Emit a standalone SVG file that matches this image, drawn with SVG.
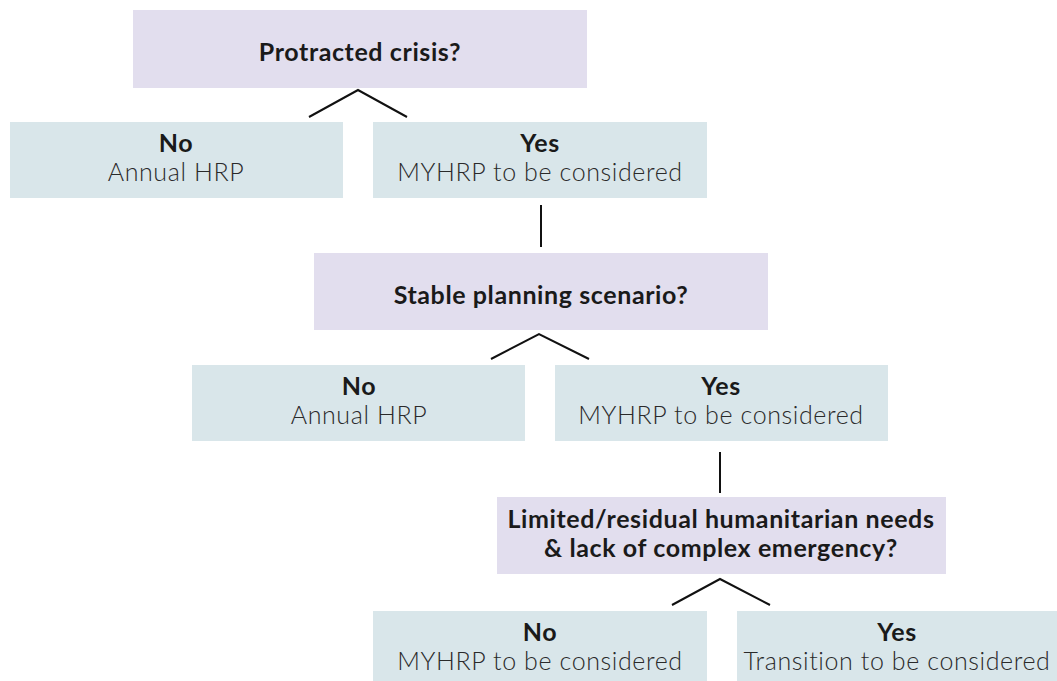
<svg xmlns="http://www.w3.org/2000/svg" width="1057" height="681" viewBox="0 0 1057 681">
<style>
.q{fill:#E2DEEE}
.a{fill:#D9E6EA}
.b{font-family:Lato,"Liberation Sans",sans-serif;font-weight:700;font-size:25px;fill:#1a1a1a;text-anchor:middle;letter-spacing:0.6px}
.l{font-family:Lato,"Liberation Sans",sans-serif;font-weight:300;font-size:25px;fill:#2a2a2a;text-anchor:middle;letter-spacing:0.6px}
.c{fill:none;stroke:#111;stroke-width:2}
</style>
<rect width="1057" height="681" fill="#fff"/>
<g id="n1"><rect class="q" x="133" y="10" width="454" height="78"/><text class="b" x="360" y="61">Protracted crisis?</text></g>
<g id="n2"><rect class="a" x="10" y="122" width="333" height="76"/><text class="b" x="176" y="152">No</text><text class="l" x="176" y="181">Annual HRP</text></g>
<g id="n3"><rect class="a" x="373" y="122" width="334" height="76"/><text class="b" x="540" y="152">Yes</text><text class="l" x="540" y="181">MYHRP to be considered</text></g>
<g id="n4"><rect class="q" x="314" y="253" width="454" height="77"/><text class="b" x="541" y="304">Stable planning scenario?</text></g>
<g id="n5"><rect class="a" x="192" y="365" width="333" height="76"/><text class="b" x="359" y="395">No</text><text class="l" x="359" y="424">Annual HRP</text></g>
<g id="n6"><rect class="a" x="555" y="365" width="333" height="76"/><text class="b" x="721" y="395">Yes</text><text class="l" x="721" y="424">MYHRP to be considered</text></g>
<g id="n7"><rect class="q" x="497" y="497" width="449" height="77"/><text class="b" x="721" y="528">Limited/residual humanitarian needs</text><text class="b" x="721" y="557">&amp; lack of complex emergency?</text></g>
<g id="n8"><rect class="a" x="373" y="611" width="334" height="70"/><text class="b" x="540" y="641">No</text><text class="l" x="540" y="670">MYHRP to be considered</text></g>
<g id="n9"><rect class="a" x="737" y="611" width="320" height="70"/><text class="b" x="897" y="641">Yes</text><text class="l" x="897" y="670">Transition to be considered</text></g>
<g id="connectors">
<polyline class="c" points="309,117 358,90 407,117"/>
<line class="c" x1="541" y1="205" x2="541" y2="247"/>
<polyline class="c" points="491,359 539,334 589,359"/>
<line class="c" x1="720" y1="452" x2="720" y2="493"/>
<polyline class="c" points="672,605 720,579 770,605"/>
</g>
</svg>
